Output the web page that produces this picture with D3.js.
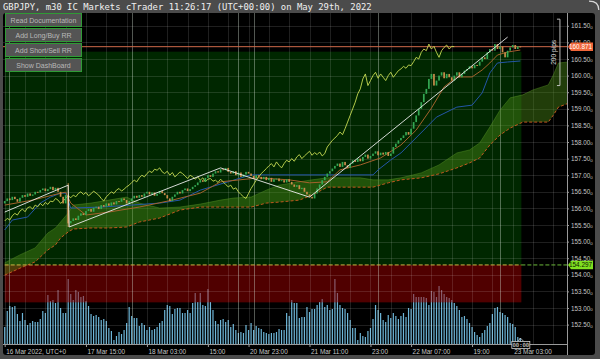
<!DOCTYPE html>
<html><head><meta charset="utf-8">
<script src="https://cdn.jsdelivr.net/npm/d3@7"></script>
<style>html,body{margin:0;padding:0;background:#4a4a4a;overflow:hidden}svg{display:block}</style>
</head><body><svg id="c" width="600" height="359"></svg>
<script>
// ---------------- data ----------------
const title = "GBPJPY, m30 IC Markets cTrader 11:26:17 (UTC+00:00) on May 29th, 2022";
const buttons = ["Read Documentation","Add Long/Buy RR","Add Short/Sell RR","Show DashBoard"];
const firstOpen = 156.15;
const closes = [
156.22,156.30,156.25,156.35,156.28,
156.20,156.32,156.40,156.35,156.45,156.38,156.42,156.50,
156.48,156.55,156.60,156.52,156.58,156.65,156.55,156.62,
156.50,156.35,156.15,156.40,
155.55,
155.62,155.70,155.65,155.78,155.85,155.80,155.92,
155.98,155.90,156.02,156.05,155.98,156.10,156.05,156.15,
156.08,156.18,156.12,156.22,156.20,156.30,156.25,156.15,156.22,156.30,156.38,156.32,
156.40,156.35,156.45,156.50,156.42,156.48,156.38,156.44,156.52,156.46,156.40,156.30,156.22,156.35,156.42,156.50,156.45,156.55,156.60,156.52,156.58,156.65,156.70,156.78,
156.85,156.80,156.92,157.00,156.95,157.05,157.12,157.08,
157.18,157.15,157.22,157.10,
157.05,157.12,157.00,157.08,156.95,157.02,157.10,157.05,156.98,156.90,157.00,156.95,
156.88,156.95,156.85,156.92,156.80,156.88,156.90,156.82,156.85,156.78,156.88,156.80,
156.72,156.65,156.70,156.58,156.62,
156.50,156.42,156.35,156.30,
156.45,156.60,156.72,156.85,156.95,157.05,157.12,
157.20,157.28,157.35,157.25,157.40,157.30,157.22,157.35,157.45,157.40,157.50,157.42,
157.55,157.62,157.50,157.58,157.65,157.72,157.60,157.68,
157.62,157.70,157.58,157.65,
157.85,157.95,158.05,158.12,
158.20,158.30,158.22,158.40,
158.60,158.80,159.00,
159.20,159.45,159.60,
159.90,160.05,159.70,159.85,
160.00,160.10,159.92,160.05,159.95,159.85,
160.00,160.10,159.95,160.05,160.15,
160.20,160.28,160.22,160.32,160.30,
160.42,160.55,160.50,
160.70,160.80,160.75,
160.95,160.80,160.88,
160.70,160.55,160.75,
160.85,160.92,160.80,160.88,160.871
];
const wickBars = [25];
const wickHigh = [156.76];
const wickLow = [155.44];
const volumes = [
680,1320,1520,1480,1520,1200,920,1240,960,760,840,920,880,880,1000,1320,1240,1960,1720,1760,
1640,2160,1440,1240,1240,2600,2000,1760,2160,2080,1880,1920,1720,1520,1200,1120,1160,1080,960,1000,
920,640,520,160,320,480,400,560,840,1480,1120,1040,1040,720,840,760,560,680,560,600,
680,840,920,1360,1560,1520,1200,1400,1440,1440,1240,1240,1360,1240,1640,2040,1680,2040,1560,1520,
2200,1680,1360,920,800,960,1000,880,960,680,800,560,440,480,440,760,560,840,560,720,
640,600,480,440,400,440,440,480,600,560,560,1240,1120,1760,1640,1640,1040,1080,1080,1480,
1280,1400,1400,1560,1680,1800,1480,1560,1360,1400,2600,2040,1560,1440,1400,1240,960,640,640,160,
440,320,280,520,640,1000,1560,1360,1240,960,880,1160,1040,1240,1120,1000,1120,1240,1080,1440,
1400,2000,1880,1880,1880,1880,1840,1560,2120,2080,1880,2320,2160,2000,1880,1840,1760,1640,1520,1360,
1080,1120,1000,840,680,480,360,280,440,560,720,840,1200,1440,1480,1280,1240,1160,1080,840,
800,680,280,240
];
const tenkanIdx = [0,11,22,24,26,32,41,53,66,77,85,100,112,120,127,132,140,148,156,162,168,173,178,184,188,191,194,198,203];
const tenkanVal = [156.10,156.25,156.46,156.49,156.16,155.80,155.89,156.04,156.25,156.46,156.80,156.92,156.86,156.77,156.80,157.16,157.31,157.52,157.91,158.36,159.02,159.66,159.96,159.96,160.17,160.38,160.62,160.71,160.77];
const kijunIdx = [0,3,9,14,18,22,24,26,38,50,61,69,77,97,145,147,152,156,165,170,178,184,188,191,194,198,203];
const kijunVal = [155.35,155.65,155.74,156.16,156.34,156.46,156.46,156.01,156.04,156.10,156.16,156.25,156.55,157.01,157.01,157.16,157.46,157.67,158.36,158.75,159.05,159.11,159.48,160.08,160.38,160.41,160.44];
const cloudIdx = [0,6,12,17,20,22,25,27,34,41,48,53,61,69,77,85,90,97,103,108,116,121,127,132,140,145,151,156,164,171,178,183,187,191,195,199,204,208,214,216,218,222];
const spanA = [154.36,154.60,154.81,155.26,155.41,155.59,155.86,156.10,156.16,156.25,156.34,156.16,156.01,156.04,156.13,156.25,156.31,156.34,156.55,156.70,156.80,156.86,156.92,156.92,156.92,156.86,156.86,156.92,157.07,157.31,157.67,157.76,157.97,158.45,158.96,159.33,159.42,159.57,159.72,160.02,160.38,160.41];
const spanB = [153.99,154.20,154.39,154.75,154.90,155.11,155.29,155.38,155.41,155.41,155.44,155.59,155.71,155.95,156.04,156.04,156.04,156.04,156.16,156.19,156.25,156.40,156.64,156.64,156.64,156.64,156.77,156.86,156.92,157.04,157.22,157.37,157.52,157.91,158.21,158.42,158.60,158.60,158.60,158.81,159.05,159.17];
const chikouShift = 26;
const zigzagIdx = [0,25,25.4,85,120,198];
const zigzagVal = [155.89,156.70,155.44,157.22,156.34,161.16];
const priceTicks = [152.5,153,153.5,154,154.5,155,155.5,156,156.5,157,157.5,158,158.5,159,159.5,160,160.5,161,161.5];
const timeTickIdx = [0,32,56,80,96,120,144,160,184,200];
const timeTickLabels = ["16 Mar 2022, UTC+0","17 Mar 15:00","18 Mar 03:00","15:00","20 Mar 23:00","21 Mar 11:00","23:00","22 Mar 07:00","19:00","23 Mar 03:00"];
const gridIdx = d3.range(0, 224, 8);
const daySepIdx = [1.5,50,92,98,147,195];
const lastPrice = 160.871, entryPrice = 154.297, targetPrice = 160.72, stopPrice = 153.17;
const rrStartIdx = 0, rrEndIdx = 204;
const pipsIdx = 218.6, pipsTop = 161.70, pipsBottom = 159.70, pipsLabel = "200 pips";
const barTimer = "00:00";

// ---------------- scales ----------------
const svg = d3.select("#c");
const X0 = 3, X1 = 567, Y0 = 13, Y1 = 344;
const x = d3.scaleLinear().domain([0, 200]).range([4.7, 512.7]);
const y = d3.scaleLinear().domain([152.5, 161.5]).range([324.6, 25.8]);
const vy = d3.scaleLinear().domain([0, 3200]).range([Y1, Y1 - 80]);
const FONT = "Liberation Sans, Arial, sans-serif";

// frame
svg.append("rect").attr("x",0).attr("y",0).attr("width",600).attr("height",359).attr("fill","#4b4b4b");
svg.append("rect").attr("x",3).attr("y",13).attr("width",592).attr("height",342).attr("rx",3).attr("fill","#000");
svg.append("path").attr("d","M589,1.2 Q598.8,1.2 598.8,10").attr("fill","none").attr("stroke","#d8d8d8").attr("stroke-width",1.2);

const defs = svg.append("defs");
defs.append("clipPath").attr("id","plot").append("rect").attr("x",X0).attr("y",Y0).attr("width",X1-X0).attr("height",Y1-Y0);
const g = svg.append("g").attr("clip-path","url(#plot)");

// volumes
g.append("g").selectAll("rect").data(volumes).join("rect")
  .attr("x",(d,i)=>x(i)-0.6).attr("width",1.2)
  .attr("y",d=>vy(d)).attr("height",d=>Y1-vy(d)).attr("fill","#6db6d8");

// risk/reward boxes
g.append("rect").attr("x",x(rrStartIdx)).attr("width",x(rrEndIdx)-x(rrStartIdx)-1.5)
  .attr("y",y(targetPrice)).attr("height",y(entryPrice)-y(targetPrice)).attr("fill","#002700");
g.append("rect").attr("x",x(rrStartIdx)).attr("width",x(rrEndIdx)-x(rrStartIdx)-1.5)
  .attr("y",y(entryPrice)).attr("height",y(stopPrice)-y(entryPrice)).attr("fill","rgba(160,0,0,0.5)");

// grid
const grid = g.append("g").attr("stroke","rgba(255,255,255,0.12)").attr("stroke-width",1);
priceTicks.forEach(p=>grid.append("line").attr("x1",X0).attr("x2",X1).attr("y1",Math.round(y(p))+0.5).attr("y2",Math.round(y(p))+0.5));
gridIdx.forEach(i=>grid.append("line").attr("y1",Y0).attr("y2",Y1).attr("x1",Math.round(x(i))+0.5).attr("x2",Math.round(x(i))+0.5));
daySepIdx.forEach(i=>g.append("line").attr("y1",Y0).attr("y2",Y1).attr("x1",Math.round(x(i))+0.5).attr("x2",Math.round(x(i))+0.5)
  .attr("stroke","rgba(215,230,215,0.38)").attr("stroke-width",1));

// cloud
const cloud = cloudIdx.map((i,k)=>({i, a:spanA[k], b:spanB[k]}));
g.append("path").datum(cloud).attr("fill","rgba(78,145,24,0.42)")
  .attr("d", d3.area().x(d=>x(d.i)).y0(d=>y(d.b)).y1(d=>y(d.a)));
g.append("path").datum(cloud).attr("fill","none").attr("stroke","rgba(90,150,40,0.55)").attr("stroke-width",0.8)
  .attr("d", d3.line().x(d=>x(d.i)).y(d=>y(d.a)));
g.append("path").datum(cloud).attr("fill","none").attr("stroke","#c0581f").attr("stroke-width",1).attr("stroke-dasharray","3,2")
  .attr("d", d3.line().x(d=>x(d.i)).y(d=>y(d.b)));

// horizontal price lines
g.append("line").attr("x1",X0).attr("x2",X1).attr("y1",y(lastPrice)).attr("y2",y(lastPrice)).attr("stroke","#cf6a4a").attr("stroke-width",1);
g.append("line").attr("x1",x(rrStartIdx)).attr("x2",x(rrEndIdx)-1.5).attr("y1",y(entryPrice)).attr("y2",y(entryPrice))
  .attr("stroke","#c9b845").attr("stroke-width",1).attr("stroke-dasharray","4,2");
g.append("line").attr("x1",x(rrEndIdx)-1.5).attr("x2",X1).attr("y1",y(entryPrice)).attr("y2",y(entryPrice))
  .attr("stroke","#6cb83a").attr("stroke-width",1).attr("stroke-dasharray","4,2");

// kijun & tenkan
g.append("path").datum(kijunIdx.map((i,k)=>[i,kijunVal[k]])).attr("fill","none").attr("stroke","#2456a8").attr("stroke-width",1)
  .attr("d", d3.line().x(d=>x(d[0])).y(d=>y(d[1])));
g.append("path").datum(tenkanIdx.map((i,k)=>[i,tenkanVal[k]])).attr("fill","none").attr("stroke","#a3622c").attr("stroke-width",1)
  .attr("d", d3.line().x(d=>x(d[0])).y(d=>y(d[1])));

// chikou
const chik = closes.map((c,i)=>[i-chikouShift,c]).filter(d=>d[0]>=0);
g.append("path").datum(chik).attr("fill","none").attr("stroke","#c6da52").attr("stroke-width",0.9)
  .attr("d", d3.line().x(d=>x(d[0])).y(d=>y(d[1])));

// candles
const candles = closes.map((c,i)=>({i, o: i===0?firstOpen:closes[i-1], c}));
g.append("g").selectAll("line").data(wickBars).join("line")
  .attr("x1",(d)=>x(d)).attr("x2",(d)=>x(d)).attr("y1",(d,k)=>y(wickHigh[k])).attr("y2",(d,k)=>y(wickLow[k]))
  .attr("stroke",d=>candles[d].c>=candles[d].o?"#34a853":"#c98d4b").attr("stroke-width",1);
g.append("g").selectAll("rect").data(candles).join("rect")
  .attr("x",d=>x(d.i)-0.85).attr("width",1.7)
  .attr("y",d=>Math.min(y(d.o),y(d.c))).attr("height",d=>Math.max(1,Math.abs(y(d.o)-y(d.c))))
  .attr("fill",d=>d.c>=d.o?"#34a853":"#c98d4b");

// zigzag
g.append("path").datum(zigzagIdx.map((i,k)=>[i,zigzagVal[k]])).attr("fill","none").attr("stroke","#ececec").attr("stroke-width",0.9)
  .attr("d", d3.line().x(d=>x(d[0])).y(d=>y(d[1])));

// buttons
buttons.forEach((b,k)=>{
  const by = 13.5 + k*15;
  svg.append("rect").attr("x",5.5).attr("y",by).attr("width",76).attr("height",13).attr("fill","#545454").attr("stroke","#2f9a35").attr("stroke-width",1);
  svg.append("text").attr("x",43.5).attr("y",by+9.2).attr("text-anchor","middle").attr("font-family",FONT)
    .attr("font-size",7).attr("fill","#b9b9b9").text(b);
});

// price axis
const ya = svg.append("g").attr("transform",`translate(${X1},0)`)
  .call(d3.axisRight(y).tickValues(priceTicks).tickSize(2).tickPadding(2).tickFormat(d3.format(".2f")));
ya.select(".domain").attr("stroke","#9a9a9a").attr("d",`M0.5,${Y0}V355`);
ya.selectAll(".tick line").attr("stroke","#9a9a9a");
ya.selectAll(".tick text").attr("fill","#c4c4c4").attr("font-size",6.3).attr("font-family",FONT)
  .each(function(){ d3.select(this).append("tspan").attr("font-size",4.4).attr("dy","0.8").text("0"); });

// time axis
const xa = svg.append("g").attr("transform",`translate(0,${Y1})`)
  .call(d3.axisBottom(x).tickValues(timeTickIdx).tickSize(3).tickPadding(3).tickFormat((d,k)=>timeTickLabels[k]));
xa.select(".domain").attr("stroke","#9a9a9a").attr("d",`M${X0},0.5H${X1}`);
xa.selectAll(".tick line").attr("stroke","#9a9a9a");
xa.selectAll(".tick text").attr("fill","#c8c8c8").attr("font-size",6.4).attr("font-family",FONT)
  .attr("text-anchor","start").attr("dx",1).attr("dy","0.55em");

// price labels
function tag(price, fill, color, text){
  const yy = y(price);
  svg.append("path").attr("d",`M${X1+1},${yy} L${X1+4},${yy-4.3} H593 V${yy+4.3} H${X1+4} Z`).attr("fill",fill);
  svg.append("text").attr("x",580.5).attr("y",yy+2.2).attr("text-anchor","middle").attr("font-size",6.4)
    .attr("font-family",FONT).attr("fill",color).text(text);
}
tag(lastPrice,"#f0663a","#ffffff",lastPrice.toFixed(3));
tag(entryPrice,"#80e020","#0c1a00",entryPrice.toFixed(3));

// 200 pips bracket
const px = x(pipsIdx);
svg.append("path").attr("d",`M${px-3},${y(pipsTop)} H${px} V${y(pipsBottom)} H${px-3}`).attr("fill","none").attr("stroke","#cfcfcf").attr("stroke-width",0.9);
svg.append("text").attr("transform",`translate(${px-3.5},${(y(pipsTop)+y(pipsBottom))/2}) rotate(-90)`).attr("text-anchor","middle")
  .attr("font-size",6.6).attr("font-family",FONT).attr("fill","#d8d8d8").text(pipsLabel);

// bar timer
const tx = x(closes.length-1);
svg.append("path").attr("d",`M${tx-2},${Y1-3} L${tx},${Y1-6} L${tx+3},${Y1-3}`).attr("fill","none").attr("stroke","#cfcfcf").attr("stroke-width",0.8);
svg.append("rect").attr("x",tx-8.5).attr("y",Y1-2.5).attr("width",18).attr("height",7).attr("fill","#000").attr("stroke","#cfcfcf").attr("stroke-width",0.8);
svg.append("text").attr("x",tx+0.5).attr("y",Y1+3).attr("text-anchor","middle").attr("font-size",5.6)
  .attr("font-family","DejaVu Sans Mono, monospace").attr("fill","#e0e0e0").text(barTimer);

// title
svg.append("text").attr("x",3).attr("y",10).attr("font-family","DejaVu Sans Mono, monospace").attr("font-size",8.9)
  .attr("fill","#f0f0f0").text(title);
</script></body></html>
